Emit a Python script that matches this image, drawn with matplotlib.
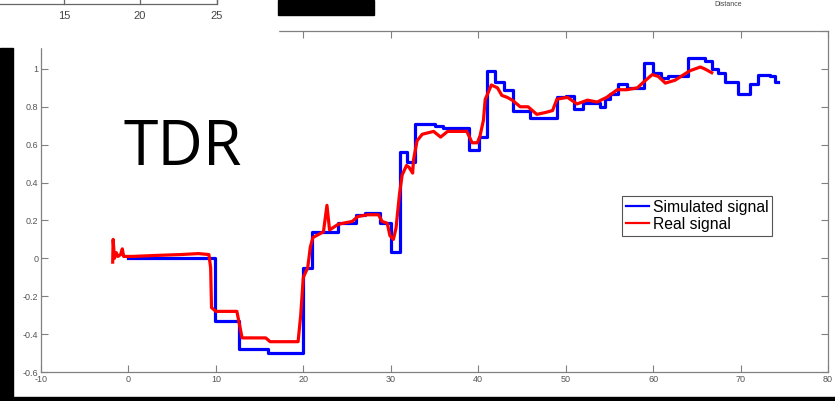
#!/usr/bin/env python

import matplotlib
matplotlib.use('Agg')
import matplotlib.pyplot as plt
from matplotlib.patches import Rectangle
from matplotlib.lines import Line2D

# Simulated TDR response: step edges (x) and levels
sim_x = [0, 9.9, 12.7, 16.0, 20.0, 21.0, 24.0, 26.0, 27.0, 28.8, 30.0, 31.0,
         31.8, 32.8, 35.0, 36.0, 39.0, 40.1, 41.0, 41.9, 42.9, 44.0, 45.9,
         49.0, 50.0, 50.9, 52.0, 53.9, 54.5, 55.1, 56.0, 57.0, 59.0, 60.0,
         60.9, 61.7, 64.0, 65.9, 66.7, 67.4, 68.2, 69.7, 71.1, 72.0, 73.4,
         73.9, 74.3]
sim_y = [0.0, -0.33, -0.48, -0.50, -0.05, 0.14, 0.185, 0.23, 0.24, 0.185,
         0.035, 0.56, 0.51, 0.71, 0.70, 0.69, 0.57, 0.64, 0.99, 0.93, 0.89,
         0.78, 0.74, 0.85, 0.855, 0.79, 0.82, 0.80, 0.84, 0.87, 0.92, 0.90,
         1.03, 0.98, 0.95, 0.96, 1.06, 1.04, 1.00, 0.98, 0.93, 0.87, 0.92,
         0.97, 0.96, 0.93, 0.93]

# Measured TDR trace
real_x = [-1.8, -1.75, -1.6, -1.4, -1.2, -0.9, -0.7, -0.55, -0.4, 0.5, 3.0,
          6.0, 8.0, 9.2, 9.4, 9.5, 10.0, 12.4, 13.0, 15.7, 16.2, 19.4, 19.7,
          20.0, 20.5, 20.8, 21.1, 21.9, 22.3, 22.7, 23.0, 24.0, 25.6, 26.2,
          27.3, 28.6, 29.0, 29.6, 29.9, 30.3, 30.6, 31.0, 31.3, 31.8, 32.1,
          32.5, 32.6, 33.0, 33.6, 34.9, 35.7, 36.5, 38.7, 39.3, 39.9, 40.2,
          40.6, 40.8, 41.0, 41.5, 42.2, 42.7, 43.3, 43.9, 44.8, 45.7, 46.7,
          47.7, 48.5, 49.0, 50.2, 51.3, 52.5, 53.6, 54.7, 55.9, 57.0, 58.2,
          58.9, 59.9, 60.6, 61.4, 62.5, 64.2, 65.4, 65.9, 66.7]
real_y = [-0.02, 0.10, 0.0, 0.03, 0.01, 0.02, 0.05, 0.01, 0.01, 0.01, 0.015,
          0.02, 0.025, 0.02, -0.05, -0.26, -0.28, -0.28, -0.42, -0.42, -0.44,
          -0.44, -0.30, -0.10, -0.05, 0.06, 0.11, 0.13, 0.14, 0.28, 0.15,
          0.18, 0.195, 0.22, 0.23, 0.23, 0.195, 0.185, 0.12, 0.10, 0.16,
          0.34, 0.44, 0.49, 0.48, 0.45, 0.52, 0.62, 0.655, 0.67, 0.64, 0.67,
          0.67, 0.61, 0.61, 0.645, 0.73, 0.84, 0.86, 0.915, 0.90, 0.86, 0.85,
          0.835, 0.80, 0.80, 0.76, 0.77, 0.78, 0.84, 0.85, 0.815, 0.835,
          0.825, 0.85, 0.89, 0.89, 0.90, 0.93, 0.97, 0.96, 0.925, 0.94, 0.99,
          1.01, 1.00, 0.98]

xticks = [-10, 0, 10, 20, 30, 40, 50, 60, 70, 80]
yticks = [-0.6, -0.4, -0.2, 0, 0.2, 0.4, 0.6, 0.8, 1, 1.2]
ytick_labels = ['-0.6', '-0.4', '-0.2', '0', '0.2', '0.4', '0.6', '0.8', '1',
                '1.2']

W, H = 835, 401


def fx(px):
    return px / W


def fy(py):
    return 1 - py / H


def main():
    plt.rcParams['font.family'] = ['Liberation Sans', 'DejaVu Sans']
    fig = plt.figure(figsize=(W / 100, H / 100), dpi=100)
    ax = fig.add_axes([fx(41), fy(372), fx(828) - fx(41), fy(31) - fy(372)])

    ax.plot(sim_x, sim_y, color='#0000ff', lw=2.3, drawstyle='steps-post',
            label='Simulated signal')
    ax.plot(real_x, real_y, color='#ff0000', lw=2.3, label='Real signal')

    ax.set_xlim(-10, 80)
    ax.set_ylim(-0.6, 1.2)
    ax.set_xticks(xticks)
    ax.set_yticks(yticks)
    ax.set_xticklabels([str(t) for t in xticks])
    ax.set_yticklabels(ytick_labels)
    ax.tick_params(direction='in', length=5, width=0.8, colors='#808080',
                   labelcolor='#555555', labelsize=6.5, top=True, right=True,
                   pad=2)
    for s in ax.spines.values():
        s.set_color('#808080')
        s.set_linewidth(0.9)

    leg = ax.legend(loc='upper left',
                    bbox_to_anchor=((622 - 41) / 787, (372 - 196) / 341),
                    fontsize=11.3, handlelength=1.45, handletextpad=0.25,
                    borderpad=0.25, labelspacing=0.12, borderaxespad=0,
                    fancybox=False, framealpha=1)
    leg.get_frame().set_edgecolor('#555555')
    leg.get_frame().set_linewidth(0.8)
    for line in leg.get_lines():
        line.set_linewidth(1.6)

    ax.text(0.105, 0.608, 'TDR', transform=ax.transAxes, fontsize=45,
            family=['Open Sans', 'DejaVu Sans'], color='black', va='baseline')

    # Scraps of the surrounding slide
    fig.add_artist(Rectangle((0, fy(47)), fx(278), 1 - fy(47),
                             transform=fig.transFigure, color='white', zorder=5))
    fig.add_artist(Rectangle((0, 0), fx(13), fy(48), transform=fig.transFigure,
                             color='black', zorder=6))
    fig.add_artist(Rectangle((0, 0), 1, fy(397), transform=fig.transFigure,
                             color='black', zorder=6))
    fig.add_artist(Rectangle((fx(278), fy(15)), fx(374) - fx(278), 1 - fy(15),
                             transform=fig.transFigure, color='black', zorder=6))
    fig.add_artist(Line2D([0, fx(217), fx(217)], [fy(4), fy(4), 1],
                          transform=fig.transFigure, color='#666666', lw=0.9,
                          zorder=7))
    for px, lab in [(64, '15'), (140, '20'), (217, '25')]:
        fig.add_artist(Line2D([fx(px), fx(px)], [fy(4), 1],
                              transform=fig.transFigure, color='#666666',
                              lw=0.9, zorder=7))
        fig.text(fx(px), fy(16), lab, ha='center', va='center', fontsize=8,
                 color='#444444', zorder=7)
    fig.text(fx(728), fy(0.5), 'Distance', ha='center', va='top', fontsize=5,
             color='#444444')

    fig.savefig('out.png', dpi=100)


if __name__ == '__main__':
    main()
